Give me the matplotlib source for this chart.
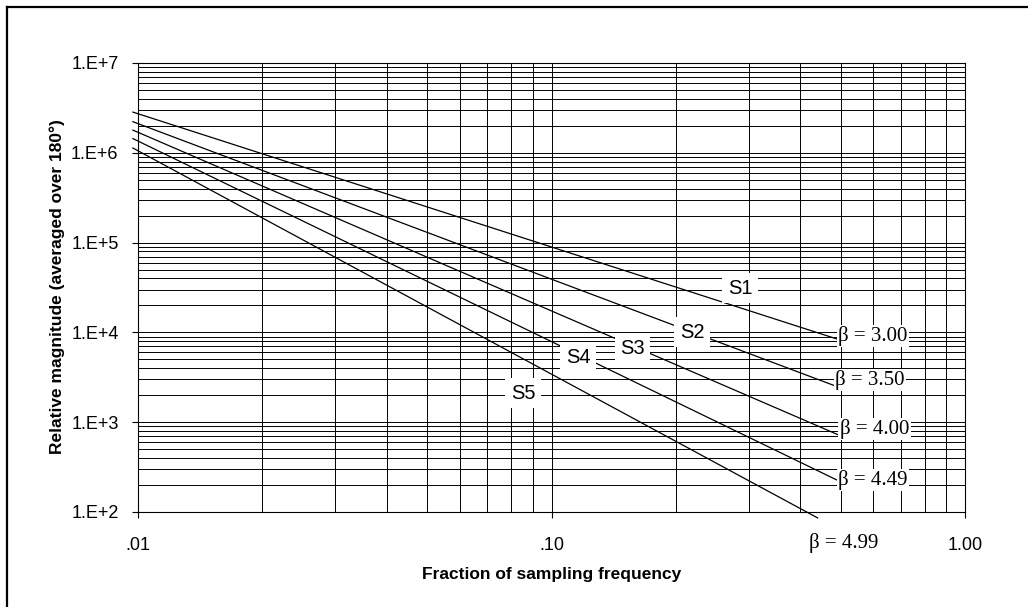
import matplotlib.pyplot as plt
from matplotlib.lines import Line2D
import numpy as np

# values (log-log straight lines, two points each)
series = ['S1', 'S2', 'S3', 'S4', 'S5']
betas = ['3.00', '3.50', '4.00', '4.49', '4.99']
x_start = [0.00972, 0.00972, 0.00972, 0.00972, 0.00972]
y_start = [2.84e6, 2.22e6, 1.79e6, 1.44e6, 1.13e6]
x_end = [0.490, 0.486, 0.495, 0.490, 0.440]
y_end = [8450, 2530, 720, 227, 86]

x_ticks = [0.01, 0.1, 1.0]
x_ticklabels = ['.01', '.10', '1.00']
y_ticks = [1e2, 1e3, 1e4, 1e5, 1e6, 1e7]
y_ticklabels = ['1.E+2', '1.E+3', '1.E+4', '1.E+5', '1.E+6', '1.E+7']

# label placement (data coords)
s_pos = [(0.286, 3.12e4), (0.219, 1.01e4), (0.157, 6.70e3), (0.116, 5.19e3), (0.0853, 2.11e3)]
b_pos = [(0.493, 9.12e3), (0.486, 2.95e3), (0.498, 840), (0.493, 227), (0.420, 45.2)]

plt.rcParams['font.family'] = ['Liberation Sans', 'DejaVu Sans']

fig = plt.figure(figsize=(10.28, 6.07), dpi=100)
ax = fig.add_axes([138/1028, 1 - 512/607, (965 - 138)/1028, (512 - 63)/607])

ax.set_xscale('log')
ax.set_yscale('log')
ax.set_xlim(0.01, 1.0)
ax.set_ylim(1e2, 1e7)

# grid: majors and minors, all black
ax.grid(True, which='both', color='black', linewidth=0.7)
ax.set_axisbelow(True)

for i in range(len(series)):
    ax.plot([x_start[i], x_end[i]], [y_start[i], y_end[i]], color='black',
            linewidth=0.9, clip_on=False, zorder=3)

ax.set_xticks(x_ticks)
ax.set_xticklabels(x_ticklabels)
ax.set_yticks(y_ticks)
ax.set_yticklabels(y_ticklabels)
ax.tick_params(which='major', direction='out', length=4, width=0.8, labelsize=13)
ax.tick_params(axis='y', pad=10)
ax.tick_params(axis='x', pad=14)
ax.tick_params(which='minor', length=0)
ax.minorticks_on()
ax.xaxis.set_minor_formatter(plt.NullFormatter())
ax.yaxis.set_minor_formatter(plt.NullFormatter())

for sp in ax.spines.values():
    sp.set_color('black')
    sp.set_linewidth(0.8)

for name, (px, py) in zip(series, s_pos):
    ax.text(px, py, name, fontsize=14.5, ha='center', va='center', zorder=5,
            bbox=dict(facecolor='white', edgecolor='none', pad=4))

for b, (px, py) in zip(betas, b_pos):
    ax.text(px, py, '\u03b2 = ' + b, fontsize=15, ha='left', va='center',
            family=['Liberation Serif', 'DejaVu Serif'], zorder=5, clip_on=False,
            bbox=dict(facecolor='white', edgecolor='none', pad=1))

fig.text(552/1028, 1 - 575/607, 'Fraction of sampling frequency', fontsize=12.5,
         fontweight='bold', ha='center', va='center')
fig.text(57/1028, 1 - 287/607, 'Relative magnitude (averaged over 180\u00b0)', fontsize=12.5,
         fontweight='bold', ha='center', va='center', rotation=90)

# outer frame (only top and left edges show in the reference)
fig.add_artist(Line2D([7/1028, 7/1028], [0, 1 - 7/607], transform=fig.transFigure,
                      color='black', linewidth=1.6))
fig.add_artist(Line2D([7/1028, 1], [1 - 7/607, 1 - 7/607], transform=fig.transFigure,
                      color='black', linewidth=1.6))

fig.savefig('out.png', dpi=100)
